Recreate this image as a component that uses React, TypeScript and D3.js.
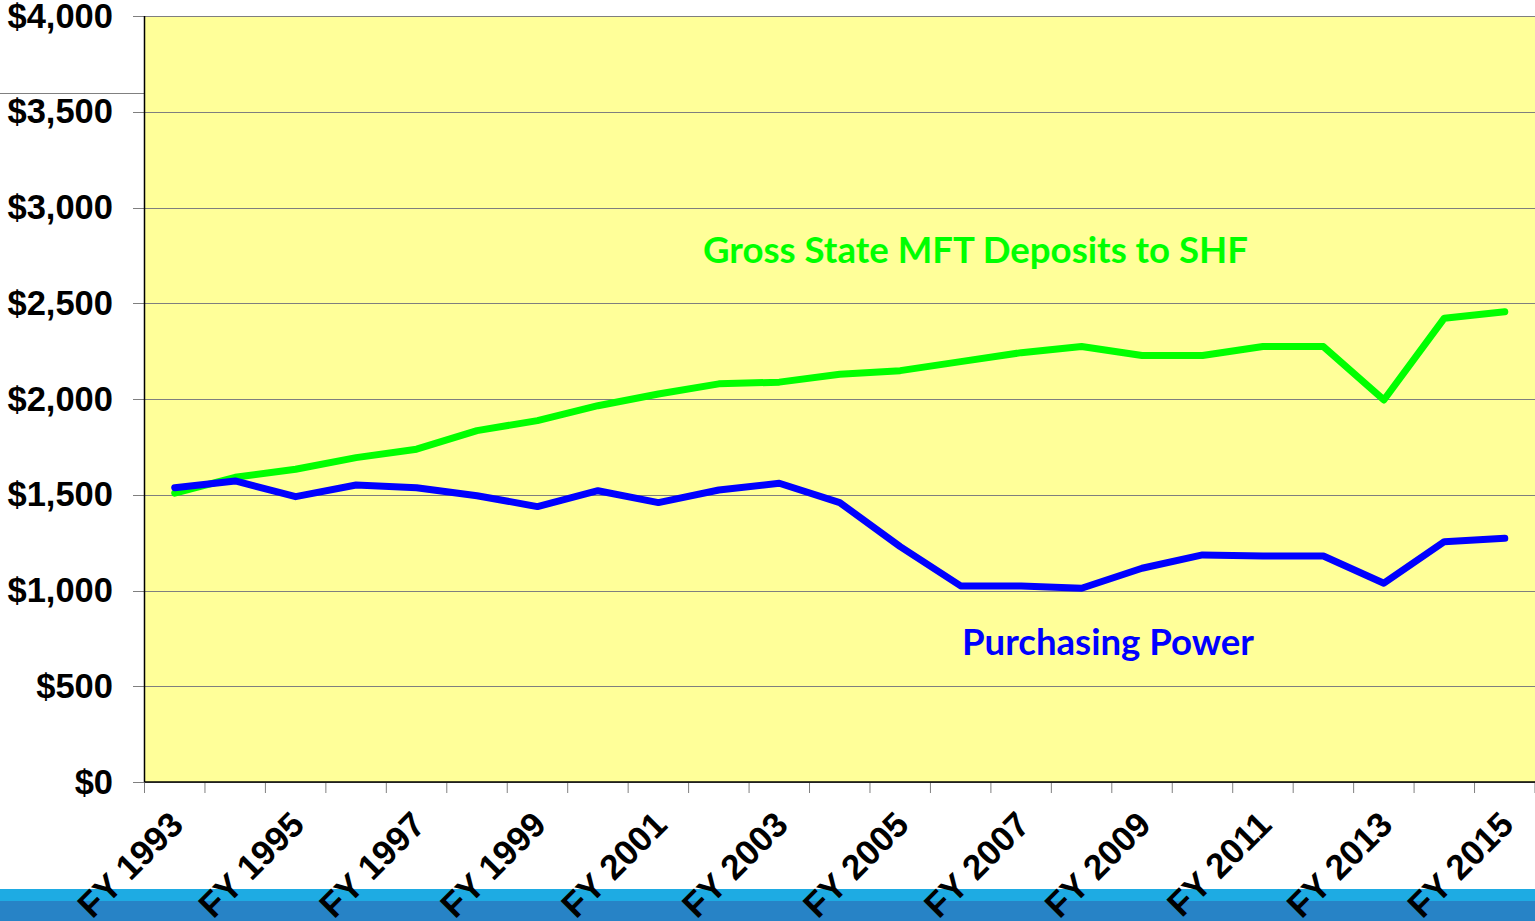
import React from 'react';
import * as d3 from 'd3';

const years = [1993, 1994, 1995, 1996, 1997, 1998, 1999, 2000, 2001, 2002, 2003, 2004, 2005, 2006, 2007, 2008, 2009, 2010, 2011, 2012, 2013, 2014, 2015];
const grossDeposits = [1508, 1591, 1633, 1694, 1738, 1835, 1887, 1965, 2026, 2079, 2088, 2129, 2148, 2195, 2242, 2274, 2227, 2227, 2274, 2274, 1995, 2422, 2456];
const purchasingPower = [1537, 1572, 1490, 1551, 1537, 1495, 1438, 1521, 1459, 1525, 1560, 1459, 1229, 1024, 1024, 1012, 1116, 1186, 1180, 1180, 1038, 1255, 1273];
const yTicks = [0, 500, 1000, 1500, 2000, 2500, 3000, 3500, 4000];
const xLabelYears = [1993, 1995, 1997, 1999, 2001, 2003, 2005, 2007, 2009, 2011, 2013, 2015];

const W = 1535;
const H = 921;
const margin = {top: 16, left: 144.5, right: 0, bottom: 139};

export default function App() {
  const x = d3.scaleBand<number>().domain(years).range([margin.left, W - margin.right]).padding(0);
  const y = d3.scaleLinear().domain([0, 4000]).range([H - margin.bottom, margin.top]);
  const cx = (yr: number) => (x(yr) as number) + x.bandwidth() / 2;

  const line = d3.line<number>().x((d, i) => cx(years[i])).y(d => y(d));

  const bottom = y(0);
  const boundaries = years.map(yr => x(yr) as number).concat([W - margin.right]);

  return (
    <div style={{position: 'absolute', left: 0, top: 0}}>
      <svg width={W} height={H} style={{display: 'block'}}>
        <rect x={0} y={0} width={W} height={H} fill="#ffffff" />
        {/* bottom decorative band */}
        <rect x={0} y={889} width={W} height={12} fill="#1eabe3" />
        <rect x={0} y={901} width={W} height={20} fill="#2783c6" />
        {/* stray slide line */}
        <line x1={0} x2={margin.left} y1={93.5} y2={93.5} stroke="#808080" strokeWidth={1} />

        <rect x={margin.left} y={margin.top} width={W - margin.left - margin.right} height={bottom - margin.top} fill="#ffff99" />

        {yTicks.map(t => (
          <g key={t}>
            <line x1={133} x2={W} y1={Math.round(y(t)) + 0.5} y2={Math.round(y(t)) + 0.5} stroke="#7f7f7f" strokeWidth={1} />
            <text x={113} y={y(t)} dy="0.34em" textAnchor="end" fontFamily="'Liberation Sans', Arial, sans-serif" fontWeight="bold" fontSize={34.5} fill="#000">
              {'$' + d3.format(',')(t)}
            </text>
          </g>
        ))}

        {boundaries.map((b, i) => (
          <line key={i} x1={b} x2={b} y1={bottom} y2={bottom + 11} stroke="#808080" strokeWidth={1} />
        ))}

        <line x1={margin.left} x2={margin.left} y1={margin.top} y2={bottom} stroke="#000" strokeWidth={1.5} />
        <line x1={margin.left} x2={W} y1={bottom} y2={bottom} stroke="#000" strokeWidth={1.5} />

        <path d={line(grossDeposits) || ''} fill="none" stroke="#00ff00" strokeWidth={7} strokeLinejoin="round" strokeLinecap="round" />
        <path d={line(purchasingPower) || ''} fill="none" stroke="#0000ff" strokeWidth={7} strokeLinejoin="round" strokeLinecap="round" />

        <text x={703} y={263} textLength={545} lengthAdjust="spacingAndGlyphs" fontFamily="Lato, 'Open Sans', sans-serif" fontWeight="bold" fontSize={37} fill="#00ff00">
          Gross State MFT Deposits to SHF
        </text>
        <text x={962} y={655} textLength={292} lengthAdjust="spacingAndGlyphs" fontFamily="Lato, 'Open Sans', sans-serif" fontWeight="bold" fontSize={37} fill="#0000ff">
          Purchasing Power
        </text>

        {xLabelYears.map(yr => (
          <text key={yr} transform={`translate(${cx(yr) + 2}, ${bottom + 36}) rotate(-45)`} textAnchor="end" dy="0.35em"
            fontFamily="'Liberation Sans', Arial, sans-serif" fontWeight="bold" fontSize={35} fill="#000">
            {'FY ' + yr}
          </text>
        ))}
      </svg>
    </div>
  );
}
